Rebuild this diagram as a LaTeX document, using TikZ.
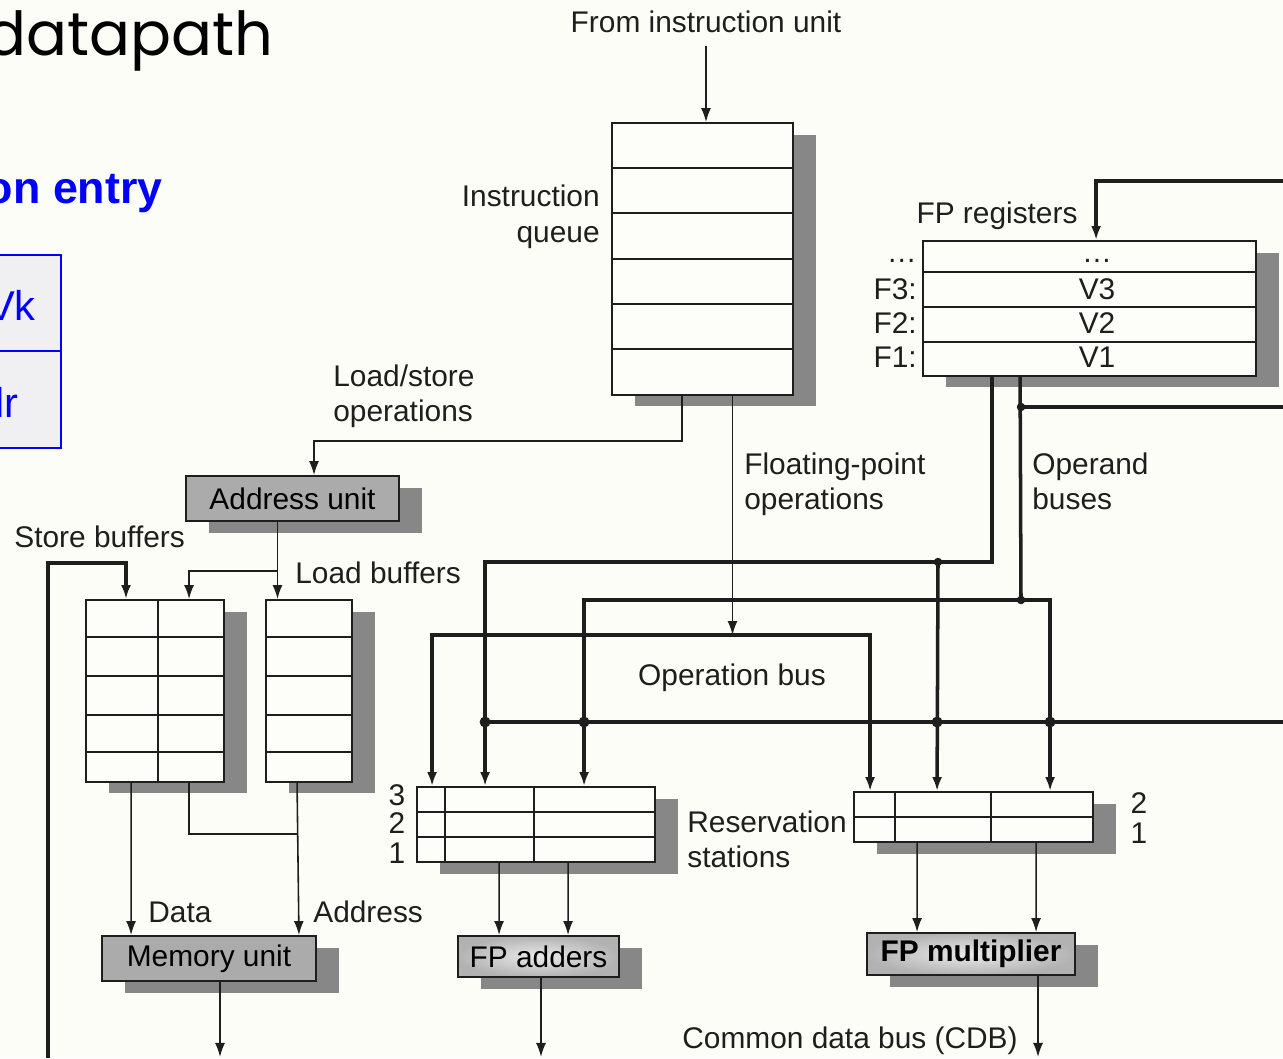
\documentclass[tikz,border=0pt]{standalone}
\usepackage{fontspec}
\setmainfont{Liberation Sans}
\newfontfamily\titlefont{Poppins}
\usetikzlibrary{arrows.meta,calc,shadows}

\definecolor{paper}{HTML}{FDFDF8}
\definecolor{unitgray}{HTML}{ABABAB}
\definecolor{shadowgray}{HTML}{878787}
\definecolor{cellwhite}{HTML}{FDFDFA}
\definecolor{slideblue}{HTML}{0000FF}
\definecolor{tablegray}{HTML}{F0F0F2}
\definecolor{ink}{HTML}{1E1E1E}

\tikzset{
	>={Latex[length=2.8mm,width=2mm]},
	wire/.style = {draw=ink, line width=0.9pt},
	bus/.style = {draw=ink, line width=2pt},
	dot/.style = {fill=ink},
	label/.style = {inner sep=0pt, text=ink},
	buffer/.style = {draw=ink, line width=1.1pt, fill=cellwhite, inner sep=0pt,
		drop shadow={shadow xshift=0.46cm, shadow yshift=-0.23cm, fill=shadowgray, opacity=1}},
	unit/.style = {buffer, fill=unitgray},
	fpunit/.style = {buffer, inner color=black!8, outer color=black!30},
	grid/.style = {draw=ink, line width=1.1pt},
	slidetext/.style = {inner sep=0pt, text=slideblue, font=\fontsize{23.7}{28}\selectfont},
}

\begin{document}
\begin{tikzpicture} [x=0.02cm, y=-0.02cm, font=\fontsize{17}{20.4}\selectfont]
	\path [use as bounding box, fill=paper] (0,0) rectangle (1283,1058);

	% slide behind the figure
	\node [anchor=base east, inner sep=0pt, font=\titlefont\fontsize{34.5}{40}\selectfont] (title) at (274,55) {datapath};
	\node [anchor=base east, slidetext, font=\bfseries\fontsize{25.5}{30}\selectfont] (entry) at (163,203) {on entry};
	\draw [slideblue, fill=tablegray, line width=1pt] (-60,255) rectangle (61,448);
	\draw [slideblue, line width=1pt] (-60,351) -- (61,351);
	\node [anchor=base east, slidetext] (vk) at (36,320) {Vk};
	\node [anchor=base east, slidetext] (ad) at (19,417) {Addr};

	% instruction queue
	\node [buffer, minimum width=3.62cm, minimum height=5.44cm] (queue) at (702.5,259) {};
	\foreach \y in {168,213,259,304,349}
		\draw [grid] (queue.west |- 0,\y) -- (queue.east |- 0,\y);
	\node [label, anchor=base] (from) at (706,32) {From instruction unit};
	\node [label, anchor=north east, align=right] (qlabel) at (600,185) {Instruction\\queue};

	% FP registers
	\node [buffer, minimum width=6.66cm, minimum height=2.7cm] (fpreg) at (1089.5,308.5) {};
	\foreach \y in {272,307,342}
		\draw [grid] (fpreg.west |- 0,\y) -- (fpreg.east |- 0,\y);
	\node [label, anchor=base] (regtop) at (1097,262) {…};
	\node [label] (v3) at (1097,289) {V3};
	\node [label] (v2) at (1097,323) {V2};
	\node [label] (v1) at (1097,357) {V1};
	\node [label, anchor=base east] (ftop) at (917,262) {…};
	\node [label, anchor=east] (f3) at (917,289) {F3:};
	\node [label, anchor=east] (f2) at (917,323) {F2:};
	\node [label, anchor=east] (f1) at (917,357) {F1:};
	\node [label, anchor=base] (reglabel) at (997,223) {FP registers};

	% load/store side
	\node [unit, minimum width=4.26cm, minimum height=0.9cm] (addr) at (292.5,498.5) {Address unit};
	\node [buffer, minimum width=2.76cm, minimum height=3.64cm] (sbuf) at (155,691) {};
	\node [buffer, minimum width=1.72cm, minimum height=3.64cm] (lbuf) at (309,691) {};
	\foreach \y in {637,676,715,752} {
		\draw [grid] (sbuf.west |- 0,\y) -- (sbuf.east |- 0,\y);
		\draw [grid] (lbuf.west |- 0,\y) -- (lbuf.east |- 0,\y);
	}
	\draw [grid] (sbuf.north -| 158,0) -- (sbuf.south -| 158,0);
	\node [unit, minimum width=4.28cm, minimum height=0.9cm] (mem) at (209,958.5) {Memory unit};

	% reservation stations and FP units
	\node [buffer, minimum width=4.76cm, minimum height=1.5cm] (rsadd) at (536,824.5) {};
	\foreach \y in {812,837}
		\draw [grid] (rsadd.west |- 0,\y) -- (rsadd.east |- 0,\y);
	\foreach \x in {445,534}
		\draw [grid] (rsadd.north -| \x,0) -- (rsadd.south -| \x,0);
	\node [buffer, minimum width=4.78cm, minimum height=1cm] (rsmul) at (973.5,817) {};
	\draw [grid] (rsmul.west |- 0,817) -- (rsmul.east |- 0,817);
	\foreach \x in {895,991}
		\draw [grid] (rsmul.north -| \x,0) -- (rsmul.south -| \x,0);
	\node [fpunit, minimum width=3.22cm, minimum height=0.82cm] (fpadd) at (538.5,956.5) {FP adders};
	\node [fpunit, minimum width=4.16cm, minimum height=0.84cm, font=\bfseries\fontsize{17}{20.4}\selectfont] (fpmul) at (971,954) {FP multiplier};

	% labels
	\node [label, anchor=north west, align=left] (lslabel) at (333,364) {Load/store\\operations};
	\node [label, anchor=north west, align=left] (fplabel) at (744,452) {Floating-point\\operations};
	\node [label, anchor=north west, align=left] (oplabel) at (1032,452) {Operand\\buses};
	\node [label, anchor=base west] (sblabel) at (14,547) {Store buffers};
	\node [label, anchor=base west] (lblabel) at (295,583) {Load buffers};
	\node [label, anchor=base] (obus) at (732,685) {Operation bus};
	\node [label, anchor=north west, align=left] (rslabel) at (687,810) {Reservation\\stations};
	\node [label, anchor=base west] (data) at (148,922) {Data};
	\node [label, anchor=base west] (adlabel) at (313,922) {Address};
	\node [label, anchor=base east] (cdblabel) at (1018,1048) {Common data bus (CDB)};
	\node [label, anchor=base] (n3) at (397,805) {3};
	\node [label, anchor=base] (n2) at (397,833) {2};
	\node [label, anchor=base] (n1) at (397,863) {1};
	\node [label, anchor=base] (m2n) at (1139,813) {2};
	\node [label, anchor=base] (m1n) at (1139,843) {1};

	% bus points
	\coordinate (opb) at (732.5,635);
	\coordinate (ga) at (938,562);
	\coordinate (gb) at (1021,600);
	\coordinate (gc) at (1021,407);
	\coordinate (cdb) at (486,722);
	\coordinate (cdbE) at (1283,722);
	\coordinate (regE) at (1283,407);
	\coordinate (topE) at (1283,181);
	\coordinate (storeS) at (48,1058);
	\coordinate (storeN) at (126,563);
	\coordinate (a1) at ($(rsadd.north west)+(16,0)$);
	\coordinate (a2) at ($(rsadd.north west)+(69,0)$);
	\coordinate (a3) at ($(rsadd.north west)+(168,0)$);
	\coordinate (m1) at ($(rsmul.north west)+(17,0)$);
	\coordinate (m2) at ($(rsmul.north west)+(84,0)$);
	\coordinate (m3) at ($(rsmul.north west)+(197,0)$);
	\coordinate (au) at ($(addr.south)+(-15,0)$);

	% instruction flow
	\draw [wire, ->] (from.south) ++(0,13) -- (from.south |- queue.north);
	\draw [wire, ->] ($(queue.south)+(-20.5,0)$) -- ++(0,45) -| ($(addr.north)+(21.5,0)$);
	\draw [wire, ->] ($(queue.south)+(30,0)$) -- (opb);
	\draw [bus, {Latex[length=2.8mm,width=2mm]}-{Latex[length=2.8mm,width=2mm]}] (a1) |- (opb) -| (m1);

	% operand buses
	\draw [bus, ->] ($(fpreg.south west)+(70,0)$) |- (ga) -| (a2);
	\draw [bus, ->] (ga) -- (m2);
	\draw [bus] ($(fpreg.south west)+(98,0)$) -- (gb);
	\draw [bus, {Latex[length=2.8mm,width=2mm]}-{Latex[length=2.8mm,width=2mm]}] (a3) |- (gb) -| (m3);
	\draw [bus] (gc) -- (regE);

	% common data bus
	\draw [bus] (cdb) -- (cdbE);
	\draw [bus, ->] (topE) -| ($(fpreg.north west)+(174,0)$);
	\draw [bus, ->] (storeS) |- (storeN) -- (storeN |- sbuf.north);
	\foreach \p in {ga,gb,gc}
		\fill [dot] (\p) circle (0.085cm);
	\foreach \p in {a2,a3,m2,m3}
		\fill [dot] (\p |- cdb) circle (0.11cm);

	% address unit to buffers
	\draw [wire, ->] (au) -- (au |- lbuf.north);
	\draw [wire, ->] ($(au)+(0,49)$) -| ($(sbuf.north west)+(104,0)$);

	% buffers to memory
	\draw [wire, ->] ($(sbuf.south west)+(46,0)$) -- ($(mem.north west)+(30,0)$);
	\draw [wire] ($(sbuf.south west)+(104,0)$) |- ($(lbuf.south west)+(32,51)$);
	\draw [wire, ->] ($(lbuf.south west)+(32,0)$) -- ($(mem.north east)+(-18,0)$);
	\draw [wire, ->] ($(mem.south)+(11,0)$) -- ++(0,75);

	% reservation stations to FP units
	\draw [wire, ->] ($(rsadd.south west)+(83,0)$) -- ($(fpadd.north west)+(42,0)$);
	\draw [wire, ->] ($(rsadd.south west)+(152,0)$) -- ($(fpadd.north west)+(111,0)$);
	\draw [wire, ->] ($(fpadd.south)+(2.5,0)$) -- ++(0,79);
	\draw [wire, ->] ($(rsmul.south west)+(64,0)$) -- ($(fpmul.north west)+(51,0)$);
	\draw [wire, ->] ($(rsmul.south west)+(183,0)$) -- ($(fpmul.north west)+(170,0)$);
	\draw [wire, ->] ($(fpmul.south)+(67,0)$) -- ++(0,81);
\end{tikzpicture}
\end{document}
